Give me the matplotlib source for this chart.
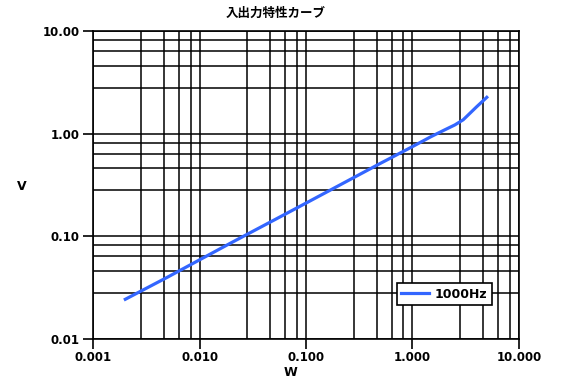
import numpy as np
import matplotlib
matplotlib.use("Agg")
import matplotlib.pyplot as plt

# data (W -> V, 1000Hz)
w = [0.002, 0.005, 0.01, 0.02, 0.05, 0.1, 0.2, 0.5, 1.0, 1.5, 2.0, 2.5, 3.0, 3.5, 4.0, 4.5, 5.0]
v = [0.0243, 0.040, 0.059, 0.087, 0.144, 0.211, 0.31, 0.515, 0.75, 0.94, 1.09, 1.22, 1.37, 1.60, 1.83, 2.05, 2.27]
series_name = "1000Hz"

x_ticks = [0.001, 0.01, 0.1, 1, 10]
x_labels = ["0.001", "0.010", "0.100", "1.000", "10.000"]
y_ticks = [0.01, 0.1, 1, 10]
y_labels = ["0.01", "0.10", "1.00", "10.00"]
minor_steps = [2.8, 4.6, 6.4, 8.2]  # decade split in 5 linear steps

plt.rcParams['font.family'] = ['DejaVu Sans']

fig = plt.figure(figsize=(5.61, 3.83), dpi=100)
ax = fig.add_axes([0.1663, 0.1154, 0.7585, 0.8028])

ax.set_xscale('log')
ax.set_yscale('log')
ax.set_xlim(0.001, 10)
ax.set_ylim(0.01, 10)

# minor grid positions
xm = [d * s for d in x_ticks[:-1] for s in minor_steps]
ym = [d * s for d in y_ticks[:-1] for s in minor_steps]
ax.set_xticks(x_ticks)
ax.set_xticklabels(x_labels)
ax.set_yticks(y_ticks)
ax.set_yticklabels(y_labels)
ax.set_xticks(xm, minor=True)
ax.set_yticks(ym, minor=True)
ax.tick_params(which='minor', length=0)
ax.tick_params(which='major', length=7, width=1.2, color='black', labelsize=8.5)
ax.tick_params(axis='x', pad=1.5)
ax.tick_params(axis='y', pad=3)
for lbl in ax.get_xticklabels() + ax.get_yticklabels():
    lbl.set_fontweight('semibold')
ax.grid(which='both', color='black', linewidth=1.1)
for s in ax.spines.values():
    s.set_linewidth(1.2)
    s.set_color('black')

ax.plot(w, v, color='#3366ff', linewidth=2.3, label=series_name, zorder=3)

leg = ax.legend(loc='lower left', bbox_to_anchor=(0.713, 0.11),
                prop={'size': 9, 'weight': 'semibold'},
                frameon=True, fancybox=False, borderaxespad=0, handlelength=2.2,
                borderpad=0.35, handletextpad=0.5)
leg.get_frame().set_edgecolor('black')
leg.get_frame().set_linewidth(1.2)
leg.get_frame().set_alpha(1)

fig.text(0.492, 1 - 13 / 383, "入出力特性カーブ", ha='center', va='center',
         fontsize=9, fontweight='bold', family=['Noto Sans CJK JP', 'DejaVu Sans'])
fig.text(290 / 561, 1 - 372 / 383, "W", ha='center', va='center', fontsize=9,
         fontweight='semibold')
fig.text(22 / 561, 1 - 187 / 383, "V", ha='center', va='center', fontsize=9,
         fontweight='semibold')

fig.savefig("out.png", dpi=100)
